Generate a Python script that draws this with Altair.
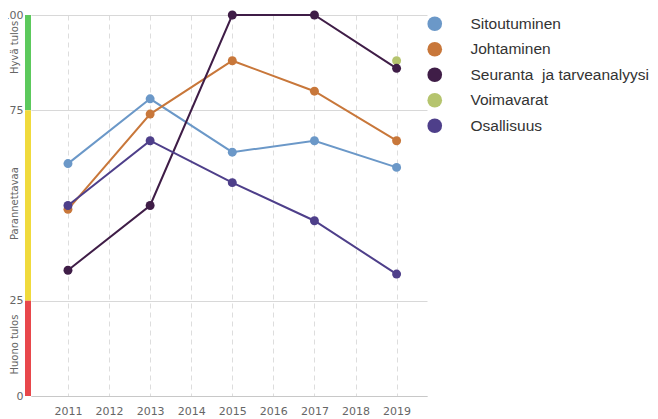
import altair as alt
import pandas as pd

# ---- data ----
years = [2011, 2013, 2015, 2017, 2019]
series_names = ["Sitoutuminen", "Johtaminen", "Seuranta\u00a0 ja tarveanalyysi", "Voimavarat", "Osallisuus"]
series_colors = ["#6b98c8", "#c8773a", "#3f1d47", "#b5c46e", "#4e3f8a"]
sitoutuminen = [61, 78, 64, 67, 60]
johtaminen = [49, 74, 88, 80, 67]
seuranta = [33, 50, 100, 100, 86]
voimavarat_years = [2019]
voimavarat = [88]
osallisuus = [50, 67, 56, 46, 32]

band_lo = [75, 25, 0]
band_hi = [100, 75, 25]
band_colors = ["#5cc95c", "#f0da3c", "#e8474b"]
band_labels = ["Hyvä tulos", "Parannettavaa", "Huono tulos"]
band_label_pos = [91.5, 50.5, 13.5]

x_ticks = list(range(2011, 2020))
y_ticks = [0, 25, 75, 100]

# ---- tables (draw order) ----
rows = []
for name, ys, vals in [
    (series_names[0], years, sitoutuminen),
    (series_names[1], years, johtaminen),
    (series_names[3], voimavarat_years, voimavarat),
    (series_names[2], years, seuranta),
    (series_names[4], years, osallisuus),
]:
    for yr, v in zip(ys, vals):
        rows.append({"year": yr, "value": v, "series": name})
df = pd.DataFrame(rows)
df["ord"] = range(len(df))

bands = pd.DataFrame({"lo": band_lo, "hi": band_hi, "col": band_colors})
labels = pd.DataFrame({"label": band_labels, "pos": band_label_pos})

xscale = alt.Scale(domain=[2010.1, 2019.74], nice=False, zero=False)
yscale = alt.Scale(domain=[0, 100], nice=False, zero=True)
cscale = alt.Scale(domain=series_names, range=series_colors)

x_axis = alt.Axis(values=x_ticks, format="d", title=None, grid=True, gridDash=[5, 4],
                  gridColor="#dddddd", domain=True, domainColor="#c8c8c8", ticks=False,
                  tickSize=0, labelPadding=9, labelFontSize=11, labelColor="#666666",
                  labelFont="DejaVu Sans")
y_axis = alt.Axis(values=y_ticks, title=None, grid=True, gridColor="#d8d8d8",
                  domain=False, ticks=False, tickSize=0, labelPadding=8,
                  labelFontSize=11, labelColor="#666666", labelFont="DejaVu Sans")
legend = alt.Legend(
    title=None, orient="none", legendX=396, legendY=1, symbolType="circle",
    symbolSize=215, symbolOpacity=1, symbolStrokeWidth=0,
    labelFontSize=15.5, labelFont="Liberation Sans", labelColor="#333333",
    rowPadding=8.5, labelOffset=28, padding=0, labelLimit=300)

lines = alt.Chart(df).mark_line(strokeWidth=2).encode(
    x=alt.X("year:Q", scale=xscale, axis=x_axis),
    y=alt.Y("value:Q", scale=yscale, axis=y_axis),
    color=alt.Color("series:N", scale=cscale, legend=legend),
    detail="series:N",
)

points = alt.Chart(df).mark_circle(size=80, opacity=1).encode(
    x=alt.X("year:Q", scale=xscale, axis=x_axis),
    y=alt.Y("value:Q", scale=yscale, axis=y_axis),
    color=alt.Color("series:N", scale=cscale, legend=legend),
    order="ord:Q",
)

band_rects = alt.Chart(bands).mark_rect().encode(
    x=alt.value(-6), x2=alt.value(0),
    y=alt.Y("lo:Q", scale=yscale, axis=y_axis), y2="hi:Q",
    fill=alt.Fill("col:N", scale=None),
)

band_text = alt.Chart(labels).mark_text(angle=270, align="center", baseline="middle",
                                        fontSize=10, font="DejaVu Sans", color="#666666").encode(
    x=alt.value(-16),
    y=alt.Y("pos:Q", scale=yscale, axis=y_axis),
    text="label:N",
)

chart = alt.layer(lines, band_rects, band_text, points).properties(
    width=396, height=381,
    autosize=alt.AutoSizeParams(type="none"),
    padding={"left": 23, "top": 7, "right": 223, "bottom": 22},
).configure_view(stroke=None)

chart.save("out.html", embed_options={"renderer": "svg", "actions": False})
